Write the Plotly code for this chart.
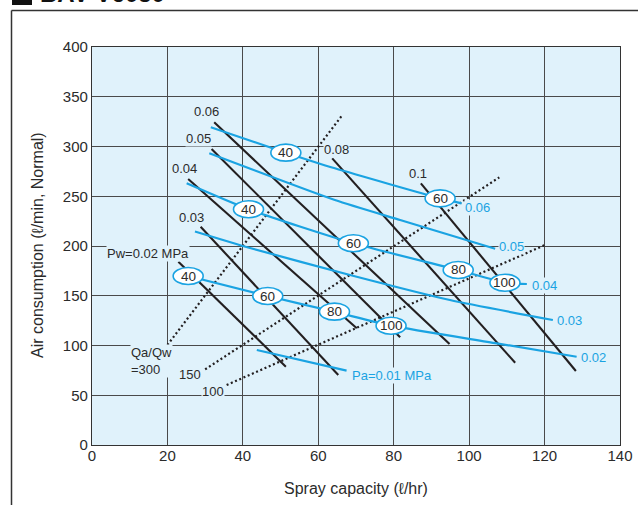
import plotly.graph_objects as go

BLUE = "#1aa3e2"
BLACK = "#231f20"
TXT = "#2b2b2b"
BG = "#e0f2fb"
GRID = "#4a4a4a"
FONT = "Liberation Sans, Arial, sans-serif"

# axis ticks
x_ticks = [0, 20, 40, 60, 80, 100, 120, 140]
y_ticks = [0, 50, 100, 150, 200, 250, 300, 350, 400]

# water-pressure (Pw) lines: start / end points
pw_labels = ["0.02", "0.03", "0.04", "0.05", "0.06", "0.08", "0.1"]
pw_x_start = [22.9, 28.8, 25.5, 31.7, 32.4, 63.7, 87.2]
pw_y_start = [184.2, 219.4, 267.3, 297.5, 324.3, 288.1, 263.0]
pw_x_end = [51.4, 65.3, 70.2, 81.7, 94.8, 112.2, 128.3]
pw_y_end = [78.7, 70.4, 117.3, 108.2, 101.5, 82.7, 74.4]

# air-pressure (Pa) lines
pa001_x = [43.7, 67.5]
pa001_y = [95.5, 74.7]
pa002_x = [25.5, 46.6, 64.3, 79.3, 107.3, 128.5]
pa002_y = [169.8, 149.7, 133.9, 119.9, 102.2, 88.7]
pa003_x = [27.3, 41.9, 68.4, 94.9, 122.2]
pa003_y = [214.6, 198.0, 170.9, 145.7, 125.6]
pa004_x = [25.1, 41.5, 69.3, 97.1, 109.5, 115.3]
pa004_y = [263.0, 236.9, 202.7, 175.9, 163.1, 161.8]
pa005_x = [31.1, 64.4, 81.7, 106.9]
pa005_y = [293.2, 246.2, 226.1, 197.3]
pa006_x = [31.5, 51.4, 64.4, 92.3, 98.0]
pa006_y = [319.3, 293.8, 278.1, 247.9, 242.9]

# Qa/Qw ratio lines (dotted)
q300_x = [20.0, 66.2]
q300_y = [100.5, 330.7]
q150_x = [30.0, 108.0]
q150_y = [76.0, 269.0]
q100_x = [35.7, 120.1]
q100_y = [60.3, 201.0]

# bubbles
bubble_x = [51.4, 92.3, 41.5, 69.3, 97.1, 109.5, 25.5, 46.6, 64.3, 79.3]
bubble_y = [293.8, 247.9, 236.9, 202.7, 175.9, 163.1, 169.8, 149.7, 134.0, 119.9]
bubble_text = ["40", "60", "40", "60", "80", "100", "40", "60", "80", "100"]

# text labels
black_labels = ["0.06", "0.05", "0.04", "0.03", "Pw=0.02 MPa", "0.08", "0.1"]
black_lx = [30.4, 28.2, 24.4, 26.4, 14.9, 64.9, 86.5]
black_ly = [335.0, 308.2, 277.4, 228.8, 192.7, 297.2, 273.1]
blue_labels = ["0.06", "0.05", "0.04", "0.03", "0.02", "Pa=0.01 MPa"]
blue_lx = [102.3, 111.3, 119.9, 126.5, 132.9, 79.5]
blue_ly = [238.5, 199.3, 160.8, 124.9, 87.7, 69.6]
ratio_labels = ["Qa/Qw<br>=300", "150", "100"]
ratio_lx = [10.1, 26.0, 32.2]
ratio_ly = [84.4, 70.4, 53.6]

fig = go.Figure()

for (qx, qy) in [(q300_x, q300_y), (q150_x, q150_y), (q100_x, q100_y)]:
    fig.add_trace(go.Scatter(x=qx, y=qy, mode="lines",
                             line=dict(color=BLACK, width=2.2, dash="2px,2.6px"),
                             hoverinfo="skip", showlegend=False))

for i in range(len(pw_labels)):
    fig.add_trace(go.Scatter(x=[pw_x_start[i], pw_x_end[i]], y=[pw_y_start[i], pw_y_end[i]],
                             mode="lines", line=dict(color=BLACK, width=2.1),
                             hoverinfo="skip", showlegend=False))

for (px_, py_) in [(pa001_x, pa001_y), (pa002_x, pa002_y), (pa003_x, pa003_y),
                   (pa004_x, pa004_y), (pa005_x, pa005_y), (pa006_x, pa006_y)]:
    fig.add_trace(go.Scatter(x=px_, y=py_, mode="lines",
                             line=dict(color=BLUE, width=2.2, shape="spline", smoothing=0.6),
                             hoverinfo="skip", showlegend=False))

shapes = []
annotations = []
for bx, by, bt in zip(bubble_x, bubble_y, bubble_text):
    shapes.append(dict(type="circle", xref="x", yref="y", xsizemode="pixel", ysizemode="pixel",
                       xanchor=bx, yanchor=by, x0=-15, x1=15, y0=-8.5, y1=8.5,
                       fillcolor="white", line=dict(color=BLUE, width=1.6), layer="above"))
    annotations.append(dict(x=bx, y=by, xref="x", yref="y", text=bt, showarrow=False,
                            font=dict(family=FONT, size=13.5, color=TXT)))

for t, lx, ly in zip(black_labels, black_lx, black_ly):
    annotations.append(dict(x=lx, y=ly, xref="x", yref="y", text=t, showarrow=False,
                            bgcolor=BG, borderpad=0, font=dict(family=FONT, size=13, color=TXT)))
for t, lx, ly in zip(blue_labels, blue_lx, blue_ly):
    annotations.append(dict(x=lx, y=ly, xref="x", yref="y", text=t, showarrow=False,
                            bgcolor=BG, borderpad=0, font=dict(family=FONT, size=13, color=BLUE)))
for i, (t, lx, ly) in enumerate(zip(ratio_labels, ratio_lx, ratio_ly)):
    annotations.append(dict(x=lx, y=ly, xref="x", yref="y", text=t, showarrow=False,
                            xanchor="left" if i == 0 else "center", align="left",
                            bgcolor=BG, borderpad=0, font=dict(family=FONT, size=13, color=TXT)))

# axis titles
annotations.append(dict(x=0.5, y=(445 - 488) / 398, xref="paper", yref="paper",
                        text="Spray capacity (ℓ/hr)", xanchor="center", yanchor="middle",
                        showarrow=False, font=dict(family=FONT, size=16, color=TXT)))
annotations.append(dict(x=(37 - 92) / 528, y=(445 - 245) / 398, xref="paper", yref="paper",
                        text="Air consumption (ℓ/min, Normal)", textangle=-90,
                        xanchor="center", yanchor="middle",
                        showarrow=False, font=dict(family=FONT, size=16, color=TXT)))
# heading (cut off at the top edge, as in the reference)
annotations.append(dict(x=(38 - 92) / 528, y=(445 + 6) / 398, xref="paper", yref="paper",
                        text="<b>BAV V6050</b>", xanchor="left", yanchor="middle",
                        showarrow=False, font=dict(family=FONT, size=24, color="#111")))
shapes.append(dict(type="rect", xref="paper", yref="paper", x0=(12 - 92) / 528, x1=(32 - 92) / 528,
                   y0=(445 - 5) / 398, y1=(445 + 20) / 398, fillcolor="#111", line=dict(width=0)))
# outer frame
shapes.append(dict(type="line", xref="paper", yref="paper", x0=(11.5 - 92) / 528, x1=(640 - 92) / 528,
                   y0=(445 - 10.5) / 398, y1=(445 - 10.5) / 398, line=dict(color="#333", width=1.5)))
shapes.append(dict(type="line", xref="paper", yref="paper", x0=(11.5 - 92) / 528, x1=(11.5 - 92) / 528,
                   y0=(445 - 10.5) / 398, y1=(445 - 510) / 398, line=dict(color="#333", width=1.5)))

fig.update_layout(
    width=638, height=505,
    margin=dict(l=92, r=18, t=47, b=60, autoexpand=False),
    paper_bgcolor="white", plot_bgcolor=BG,
    font=dict(family=FONT, size=15, color=TXT),
    shapes=shapes, annotations=annotations,
    showlegend=False,
)
fig.update_xaxes(range=[0, 140], tickvals=x_ticks, showgrid=True, gridcolor=GRID, gridwidth=1,
                 zeroline=False, showline=True, linecolor="#333", linewidth=1.2, mirror=True,
                 ticks="", ticklabelstandoff=-3, tickfont=dict(size=15, color=TXT), automargin=False)
fig.update_yaxes(range=[0, 400], tickvals=y_ticks, showgrid=True, gridcolor=GRID, gridwidth=1,
                 zeroline=False, showline=True, linecolor="#333", linewidth=1.2, mirror=True,
                 ticks="", tickfont=dict(size=15, color=TXT), automargin=False)

fig.write_html("out.html", config={"displayModeBar": False},
               post_script="document.body.style.margin='0';document.body.style.overflow='hidden';")
